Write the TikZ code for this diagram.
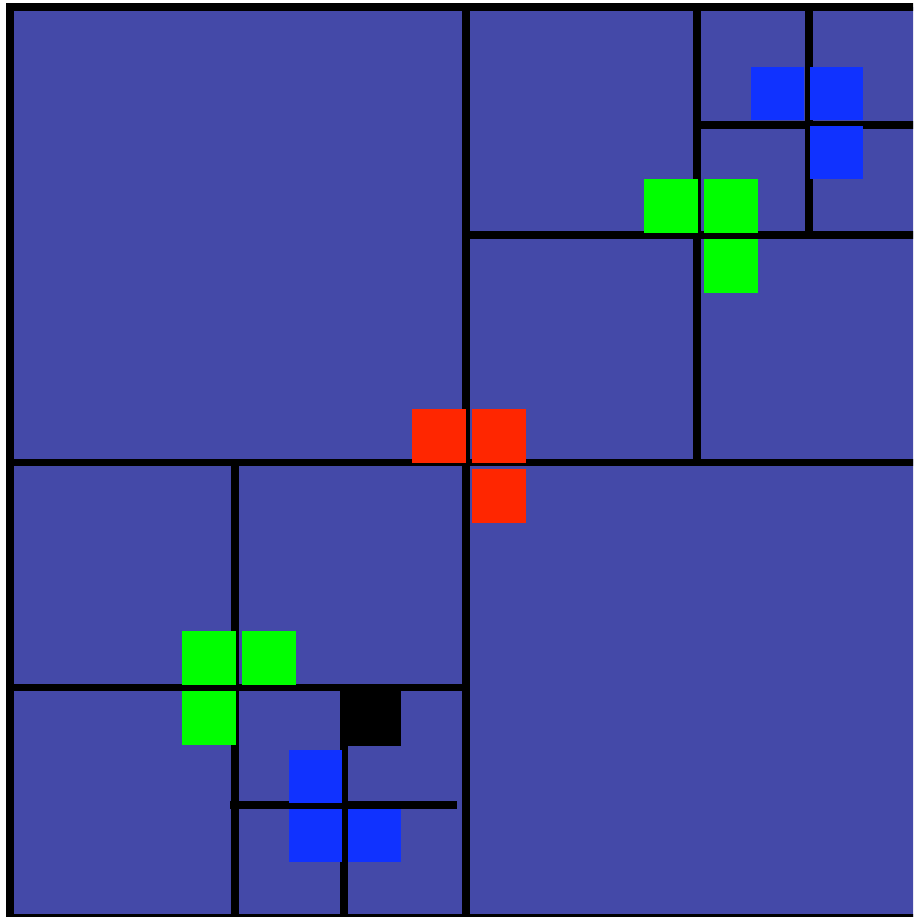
\documentclass[tikz,border=0pt]{standalone}
\definecolor{cellblue}{RGB}{68,73,168}
\definecolor{sqred}{RGB}{255,38,0}
\definecolor{sqgreen}{RGB}{0,255,0}
\definecolor{sqblue}{RGB}{16,50,255}
\tikzset{
  grid line/.style={line width=7.5pt, black, line cap=butt},
  sq/.style={draw=none}
}
\begin{document}
\begin{tikzpicture}[x=1pt,y=-1pt]
\useasboundingbox (0,0) rectangle (913,917);
\clip (0,0) rectangle (913,917);
\fill[white] (0,0) rectangle (913,917);
% background cells
\fill[cellblue] (10,7) rectangle (922,918);
% outer frame
\draw[grid line] (10,7) rectangle (922,918);
% level 1
\draw[grid line] (10,462.5) -- (922,462.5);
\draw[grid line] (466,7) -- (466,918);
% top-right quadrant
\draw[grid line] (466,235) -- (922,235);
\draw[grid line] (697,7) -- (697,462.5);
\draw[grid line] (809,7) -- (809,235);
\draw[grid line] (697,125) -- (922,125);
% bottom-left quadrant
\draw[grid line] (235,462.5) -- (235,918);
\draw[grid line] (10,687.5) -- (466,687.5);
\draw[grid line] (230,805) -- (457,805);
\draw[grid line] (344,687.5) -- (344,918);
% red squares
\fill[sqred] (412,409) rectangle (466,463);
\fill[sqred] (472,409) rectangle (526,463);
\fill[sqred] (472,469) rectangle (526,523);
% green squares top-right
\fill[sqgreen] (644,179) rectangle (698,233);
\fill[sqgreen] (704,179) rectangle (758,233);
\fill[sqgreen] (704,239) rectangle (758,293);
% blue squares top-right
\fill[sqblue] (751,67) rectangle (804,120);
\fill[sqblue] (810,67) rectangle (863,120);
\fill[sqblue] (810,126) rectangle (863,179);
% green squares bottom-left
\fill[sqgreen] (182,631) rectangle (236,685);
\fill[sqgreen] (242,631) rectangle (296,685);
\fill[sqgreen] (182,691) rectangle (236,745);
% black square
\fill[black] (340,691) rectangle (401,746);
% blue squares bottom-left
\fill[sqblue] (289,750) rectangle (342,803);
\fill[sqblue] (289,809) rectangle (342,862);
\fill[sqblue] (348,809) rectangle (401,862);
\end{tikzpicture}
\end{document}
